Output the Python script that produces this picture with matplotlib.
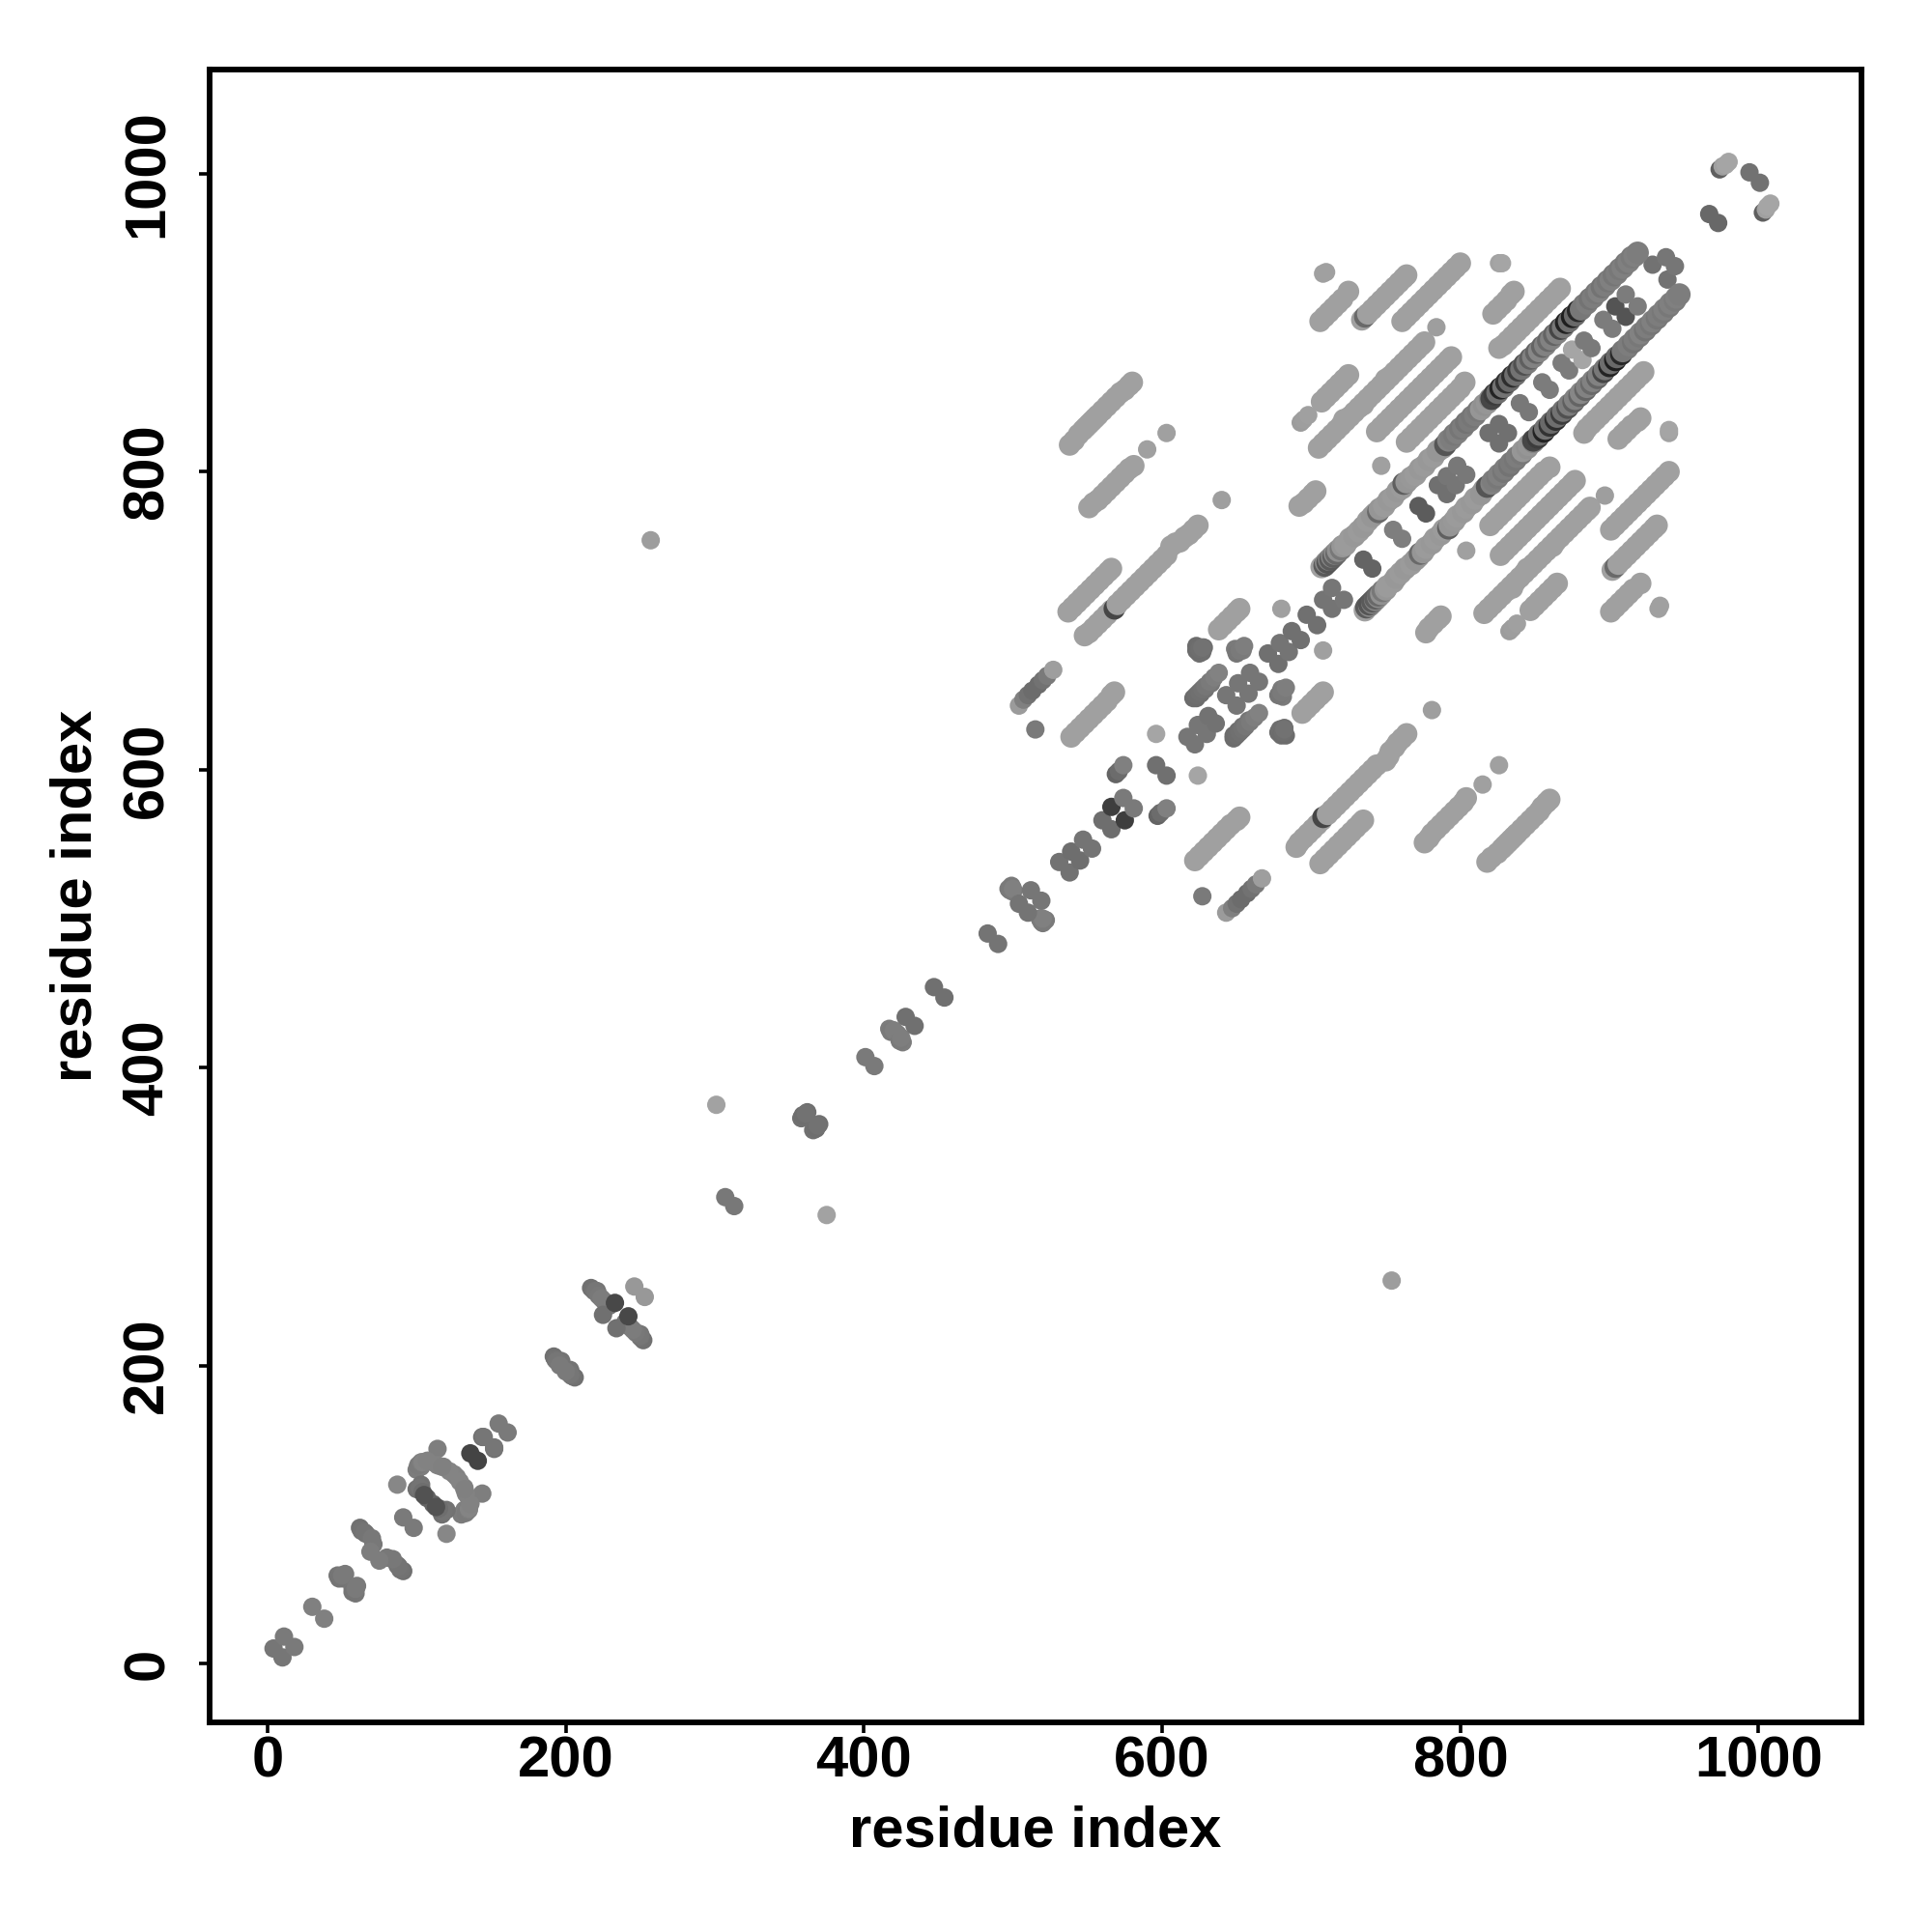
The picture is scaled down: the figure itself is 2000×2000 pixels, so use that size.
import matplotlib
matplotlib.use("Agg")
import matplotlib.pyplot as plt

plt.rcParams['font.family'] = ['Liberation Sans', 'DejaVu Sans']
plt.rcParams['font.weight'] = 'bold'

tick_values = [0, 200, 400, 600, 800, 1000]
axis_label = "residue index"

# off-diagonal strands (i, j with i < j), the lightest contacts
streak_i = [538,541,544,547,549,551,553,555,557,560,563,566,569,572,575,578,580,
            551,554,557,560,563,566,569,572,575,578,581,
            548,551,554,557,560,563,566,
            537,540,543,546,549,552,555,558,561,564,566,
            638,641,644,647,650,652,
            539,542,545,548,551,554,557,560,563,566,568,
            706,709,712,715,718,721,725,
            734,
            761,764,767,770,773,776,779,782,785,788,791,794,797,800,
            822,825,828,831,834,836,
            826,829,832,835,838,841,844,847,850,853,856,859,862,865,867,
            705,708,711,714,717,720,722,723,726,729,732,735,735,738,741,744,747,750,750,753,756,759,762,765,768,771,774,776,
            707,710,713,716,719,722,725,
            744,747,750,753,756,759,762,765,768,771,774,777,780,783,786,789,792,794,
            764,767,770,773,776,779,782,785,788,791,794,797,800,803,
            692,695,698,701,703]
streak_j = [818,821,825,828,830,832,834,836,838,841,844,847,850,853,855,858,860,
            776,779,781,784,787,790,793,796,799,802,804,
            690,692,695,698,701,704,707,
            706,709,712,715,718,721,724,727,730,733,735,
            694,697,700,703,706,708,
            622,625,628,631,634,637,640,643,646,650,652,
            901,904,907,910,913,916,921,
            902,
            901,904,907,910,913,916,919,922,925,928,931,934,937,940,
            906,909,912,915,919,921,
            883,885,888,891,894,897,900,903,906,909,912,915,918,921,923,
            816,819,822,825,828,831,835,834,837,840,843,846,845,849,852,855,858,861,862,864,867,870,873,876,879,882,885,887,
            847,850,853,856,859,862,865,
            827,830,833,836,839,842,845,848,851,854,857,860,863,866,869,872,875,877,
            820,823,826,829,832,835,838,841,844,847,850,853,856,860,
            777,779,782,785,787]

# dark crescents visible inside the light strands
accent_i = [568, 736]
accent_j = [708, 904]
accent_g = [70, 105]

# light strand pieces that lie on top of the crescents
cover_i = [570,573,576,579,582,585,588,591,594,597,600,603,606,609,612,615,618,621,624,
           738,741,744,747,750,753,756,759,762,764]
cover_j = [711,714,717,720,723,726,729,732,735,738,741,744,750,752,753,756,758,761,764,
           906,909,912,915,918,921,924,927,930,932]

# contacts that thicken the stacked clusters
stack_i = [47,51,52,358,362,497,500,499,623,627,625,628,649,654,
           623,626,629,633,100,103,108,111,118,125,103,107,100,
           217,221,226,229,192,197,62,66,71,417,422]
stack_j = [59,57,60,366,370,520,518,522,683,679,678,682,681,680,
           648,651,654,658,130,132,136,135,132,127,120,111,117,
           252,250,243,240,206,203,91,87,80,426,423]
stack_g = [118,120,122,112,112,122,124,122,108,110,110,110,122,124,
           108,110,114,118,124,126,128,128,130,130,114,100,112,
           112,116,118,118,112,116,112,116,120,124,124]

# isolated contacts and small clusters
blob_i = [4,11,30,48,50,63,65,70,69,91,87,114,
          101,103,104,114,122,107,117,102,104,105,
          136,144,145,155,193,194,196,
          219,220,222,224,225,233,246,
          257,301,307,359,361,401,418,420,428,447,483,
          498,500,504,512,531,539,547,
          560,566,574,569,571,574,596,596,515,
          504,507,510,513,517,520,523,527,
          617,624,631,
          621,623,625,627,629,632,635,638,
          623,625,627,650,652,655,643,651,659,671,679,687,
          697,708,714,735,755,772,785,791,798,
          819,826,840,855,868,875,883,896,904,911,929,938,967,994,
          974,976,978,980,
          680,590,603,640,747,784,826,828,708,710,693,695,698]
blob_j = [10,18,38,57,59,89,88,84,75,98,120,144,
          133,135,135,133,129,136,132,118,115,113,
          141,152,152,161,204,203,200,
          250,250,247,245,234,242,253,
          754,375,313,368,369,407,424,425,434,454,490,
          519,520,510,519,538,545,553,
          566,575,581,597,599,603,603,624,627,
          643,647,650,653,657,660,663,667,
          622,630,636,
          648,650,652,654,656,659,662,665,
          680,681,682,678,680,683,650,658,665,678,685,693,
          704,714,722,741,761,777,791,797,804,
          826,832,846,860,873,882,888,902,911,919,939,944,973,1001,
          1003,1005,1006,1008,
          708,815,826,781,804,897,940,940,933,934,833,835,838]
blob_g = [118,122,128,116,122,114,116,120,125,122,135,126,
          122,126,132,130,132,130,128,116,110,82,
          68,112,118,122,114,118,122,
          115,118,120,124,112,72,152,
          157,162,120,110,114,122,122,126,112,112,116,
          122,128,116,118,114,110,116,
          110,62,122,100,108,128,112,165,122,
          155,128,114,108,108,114,122,158,
          118,118,114,
          108,110,112,114,118,122,126,130,
          108,110,114,118,122,126,118,118,118,112,116,112,
          112,116,118,100,126,92,112,118,120,
          112,112,120,124,124,165,122,124,84,124,114,118,104,114,
          95,160,165,165,
          160,160,160,158,160,158,162,165,160,160,156,158,160]

# strand running parallel to the main diagonal
band_i = [707,709,710,711,712,713,714,715,716,717,718,720,721,
          723,726,729,732,735,738,741,743,745,746,749,752,755,758,761,762,764,767,770,773,776,779,782,785,788,790,
          792,794,796,798,800,802,804,806,808,810,812,814,816,818,820,
          821,823,825,827,829,831,833,835,837,839,841,843,845,847,849,851,853,855,857,859,861,863,865,867,869,
          871,873,875,877,879,881,883,885,887,889,891,893,895,897,899,901,903,905,907,909,911,913,915,917,919]
band_j = [736,737,739,739,741,741,743,743,745,745,747,748,750,
          751,755,757,760,763,767,770,772,773,775,777,781,783,787,789,792,793,796,798,802,804,808,810,814,816,818,
          821,822,825,826,829,830,833,834,837,838,841,842,845,846,849,
          849,852,853,856,857,860,861,864,865,868,869,872,873,876,877,880,881,884,885,888,889,892,893,896,897,
          900,901,904,905,908,909,912,913,916,917,920,921,924,925,928,929,932,933,936,937,940,941,944,945,947]
band_g = [160,90,140,85,130,90,135,95,140,105,145,120,150,
          155,155,152,155,152,155,150,150,105,150,155,152,155,152,155,95,150,152,155,152,155,152,155,150,150,85,
          130,125,120,128,118,125,115,122,118,125,120,150,145,150,135,
          70,60,110,35,115,50,105,45,110,60,115,80,125,95,130,100,135,100,130,105,130,100,130,70,120,
          35,110,30,105,40,120,120,125,115,125,120,130,115,125,118,128,118,125,120,128,120,128,122,128,125]


def grey(values):
    return [str(v / 255) for v in values]


fig = plt.figure(figsize=(10, 10), dpi=200, facecolor='white')
ax = fig.add_axes([216.8 / 2000, 217 / 2000, 1710 / 2000, 1711 / 2000])


def draw(i, j, g, size):
    colours = grey(g) if isinstance(g, list) else [str(g / 255)] * len(i)
    for a, b in ((i, j), (j, i)):
        ax.scatter(a, b, s=size, c=colours, linewidths=0, zorder=3)


draw(streak_i, streak_j, 160, 65)
draw(accent_i, accent_j, accent_g, 65)
draw(cover_i, cover_j, 160, 65)
draw(stack_i, stack_j, stack_g, 47)
draw(blob_i, blob_j, blob_g, 47)
draw(band_i, band_j, band_g, 70)

ax.set_xlim(-39, 1069)
ax.set_ylim(-39.6, 1070)
ax.set_xticks(tick_values)
ax.set_yticks(tick_values)
ax.tick_params(axis='x', length=4, width=1.3, labelsize=21.5, pad=1)
ax.tick_params(axis='y', length=4, width=1.3, labelsize=21.5, pad=9)
for t in ax.get_yticklabels():
    t.set_rotation(90)
    t.set_va('center')
for s in ax.spines.values():
    s.set_linewidth(2.1)
ax.set_xlabel(axis_label, fontsize=21.5, fontweight='bold', labelpad=6)
ax.set_ylabel(axis_label, fontsize=21.5, fontweight='bold', labelpad=7)

fig.savefig("out.png", dpi=200, facecolor='white')
